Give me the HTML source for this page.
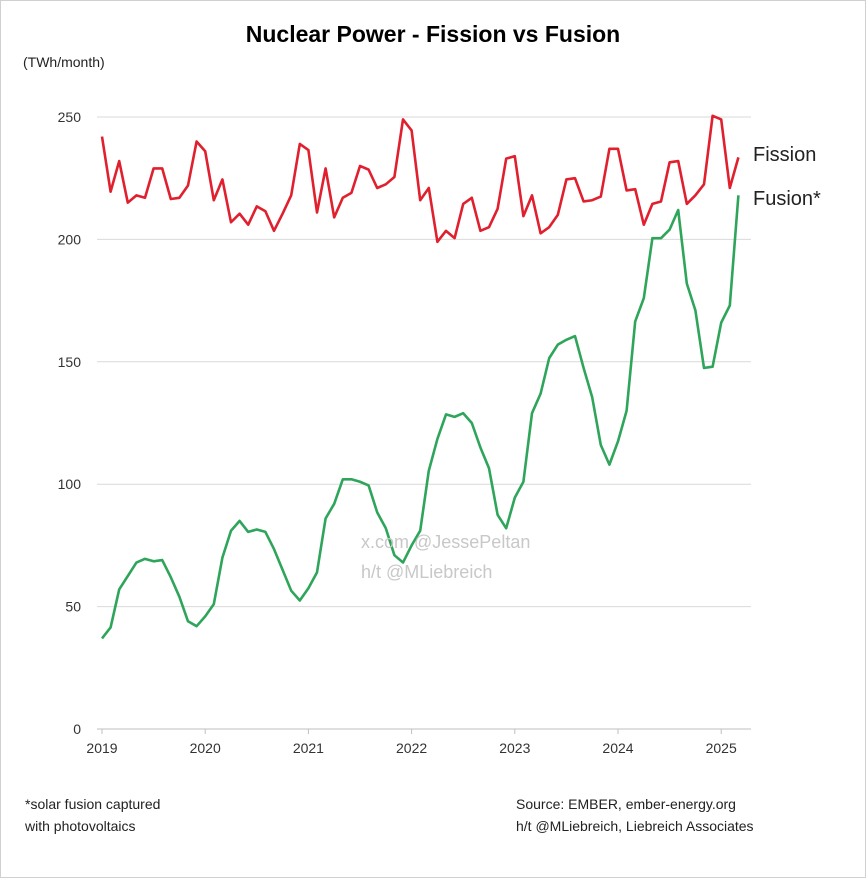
<!DOCTYPE html>
<html><head><meta charset="utf-8"><style>
body{margin:0;background:#fff;font-family:"Liberation Sans",sans-serif;}
#wrap{position:relative;width:864px;height:876px;border:1px solid #d0d0d0;overflow:hidden;}
</style></head><body>
<div id="wrap">
<svg id="chart" width="864" height="876" xmlns="http://www.w3.org/2000/svg">
<text x="432" y="41" text-anchor="middle" font-size="23" font-weight="bold" fill="#000">Nuclear Power - Fission vs Fusion</text>
<text x="22" y="66" font-size="14" fill="#222">(TWh/month)</text>
<g id="grid"></g><g id="axes"></g><g id="series"></g>
<text x="360" y="547" font-size="18" fill="#c8c8c8">x.com @JessePeltan</text>
<text x="360" y="577" font-size="18" fill="#c8c8c8">h/t @MLiebreich</text>
<text x="752" y="160" font-size="20" fill="#222">Fission</text>
<text x="752" y="204" font-size="20" fill="#222">Fusion*</text>
<text x="24" y="808" font-size="14" fill="#222">*solar fusion captured</text>
<text x="24" y="830" font-size="14" fill="#222">with photovoltaics</text>
<text x="515" y="808" font-size="14" fill="#222">Source: EMBER, ember-energy.org</text>
<text x="515" y="830" font-size="14" fill="#222">h/t @MLiebreich, Liebreich Associates</text>
</svg></div>
<script>
const yTicks=[0,50,100,150,200,250];
const years=[2019,2020,2021,2022,2023,2024,2025];
const fission=[242,219.5,232,215,218,217,229,229,216.5,217,222,240,236,216,224.5,207,210.5,206,213.5,211.5,203.5,210.5,218,239,236.5,211,229,209,217,219,230,228.5,221,222.5,225.5,249,244.5,216,221,199,203.5,200.5,214.5,217,203.5,205,212.5,233,234,209.5,218,202.5,205,210,224.5,225,215.5,216,217.5,237,237,220,220.5,206,214.5,215.5,231.5,232,214.5,218,222.5,250.5,249,221,233.5];
const fusion=[37,41.5,57,62.5,68,69.5,68.5,69,62,54,44,42,46,51,70,81,85,80.5,81.5,80.5,73.5,65,56.5,52.5,57.5,64,86,92,102,102,101,99.5,88.5,82,71,68,75,81,105.5,118.5,128.5,127.5,129,125,115,106.5,87.5,82,94.5,101,129,137,151.5,157,159,160.5,147.5,135.5,116,108,117.5,130,166.5,176,200.5,200.5,204,212,182,171,147.5,148,166,173,218];
const NS="http://www.w3.org/2000/svg";
const X0=101,PXM=8.6,Y0=728,PXU=612/250;
const xs=i=>X0+i*PXM, ys=v=>Y0-v*PXU;
function mk(t,a,p){const e=document.createElementNS(NS,t);for(const k in a)e.setAttribute(k,a[k]);p.appendChild(e);return e;}
const grid=document.getElementById('grid'),axes=document.getElementById('axes'),ser=document.getElementById('series');
yTicks.forEach(v=>{
 if(v>0){const l=mk('line',{x1:96,x2:750,y1:ys(v),y2:ys(v),stroke:'#d9d9d9','stroke-width':1},grid);
 
 }
 const t=mk('text',{x:80,y:ys(v)+5,'text-anchor':'end','font-size':14,fill:'#333'},axes);t.textContent=v;
 
 
});
const ax=mk('line',{x1:96,x2:750,y1:Y0,y2:Y0,stroke:'#bfbfbf','stroke-width':1},axes);


years.forEach((y,k)=>{
 const x=xs(k*12);
 mk('line',{x1:x,x2:x,y1:Y0,y2:Y0+5,stroke:'#bfbfbf'},axes);
 const t=mk('text',{x:x,y:Y0+24,'text-anchor':'middle','font-size':14,fill:'#333'},axes);t.textContent=y;
 
 
});
function line(arr,col,name){
 const p=mk('polyline',{points:arr.map((v,i)=>xs(i)+','+ys(v)).join(' '),fill:'none',stroke:col,'stroke-width':2.6,'stroke-linejoin':'round'},ser);
 
 
}
line(fission,'#e0202e','fission-line');
line(fusion,'#2ea55a','fusion-line');
</script>
</body></html>
